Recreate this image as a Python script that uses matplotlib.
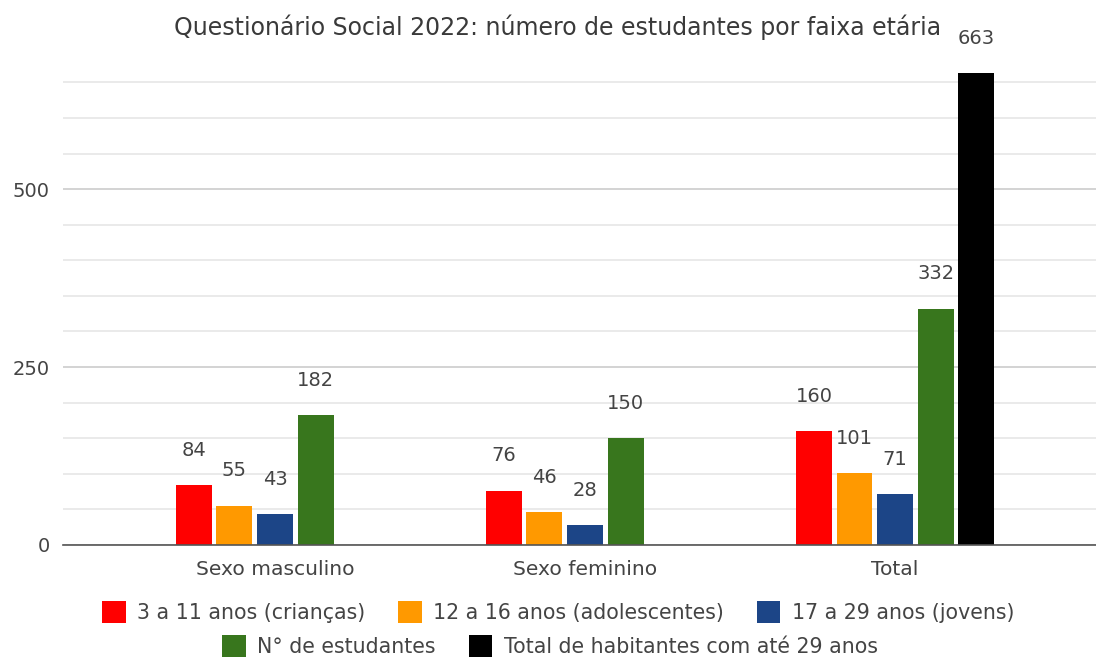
import matplotlib
matplotlib.use("Agg")
import matplotlib.pyplot as plt
import numpy as np
from matplotlib.patches import Patch
from matplotlib.ticker import MultipleLocator

categories = ["Sexo masculino", "Sexo feminino", "Total"]
series_names = ["3 a 11 anos (crianças)", "12 a 16 anos (adolescentes)",
                "17 a 29 anos (jovens)", "N° de estudantes",
                "Total de habitantes com até 29 anos"]
criancas = [84, 76, 160]
adolescentes = [55, 46, 101]
jovens = [43, 28, 71]
estudantes = [182, 150, 332]
habitantes = [None, None, 663]
title = "Questionário Social 2022: número de estudantes por faixa etária"

colors = ["#ff0000", "#ff9900", "#1c4587", "#38761d", "#000000"]
series = [criancas, adolescentes, jovens, estudantes, habitantes]

plt.rcParams['font.family'] = ['DejaVu Sans']
text_color = "#444444"

fig = plt.figure(figsize=(10.96, 6.59), dpi=100)
ax = fig.add_axes([63/1096, 114/659, 1 - 63/1096, (545-61)/659])

x = np.arange(len(categories))
step = 0.131
width = 0.116
n = len(series)
for i, (vals, c) in enumerate(zip(series, colors)):
    off = (i - (n - 1) / 2) * step
    for j, v in enumerate(vals):
        if v is None:
            continue
        ax.bar(x[j] + off, v, width=width, color=c, zorder=3)
        ax.annotate(str(v), (x[j] + off, v), xytext=(0, 35),
                    textcoords="offset pixels", ha="center", va="center",
                    fontsize=14, color=text_color, annotation_clip=False)

ax.set_xlim(-0.684, 2.648)
ax.set_ylim(0, 680)
ax.yaxis.set_major_locator(MultipleLocator(250))
ax.yaxis.set_minor_locator(MultipleLocator(50))
ax.grid(axis="y", which="minor", color="#e6e6e6", lw=1.2, zorder=0)
ax.grid(axis="y", which="major", color="#cccccc", lw=1.2, zorder=0)
ax.set_xticks(x)
ax.set_xticklabels(categories)
ax.tick_params(axis="both", which="both", length=0, labelsize=14,
               labelcolor=text_color)
ax.tick_params(axis="x", labelsize=14.6, pad=11)
ax.tick_params(axis="y", pad=9.5)
for s in ["top", "right", "left"]:
    ax.spines[s].set_visible(False)
ax.spines["bottom"].set_color("#555555")
ax.spines["bottom"].set_linewidth(1.2)
ax.spines["bottom"].set_zorder(4)

fig.text(558/1096, 1 - 27/659, title, ha="center", va="center",
         fontsize=17, color="#3a3a3a")

handles = [Patch(facecolor=c, edgecolor="none") for c in colors]
common = dict(frameon=False, fontsize=14.8, handlelength=1.15, handleheight=1.25,
              handletextpad=0.55, columnspacing=1.6, borderpad=0,
              labelcolor=text_color, loc="center")
leg1 = fig.legend(handles[:3], series_names[:3], ncol=3,
                  bbox_to_anchor=(558/1096, 1 - 612/659), **common)
leg2 = fig.legend(handles[3:], series_names[3:], ncol=2,
                  bbox_to_anchor=(550/1096, 1 - 646/659), **common)

fig.savefig("out.png", dpi=100)
